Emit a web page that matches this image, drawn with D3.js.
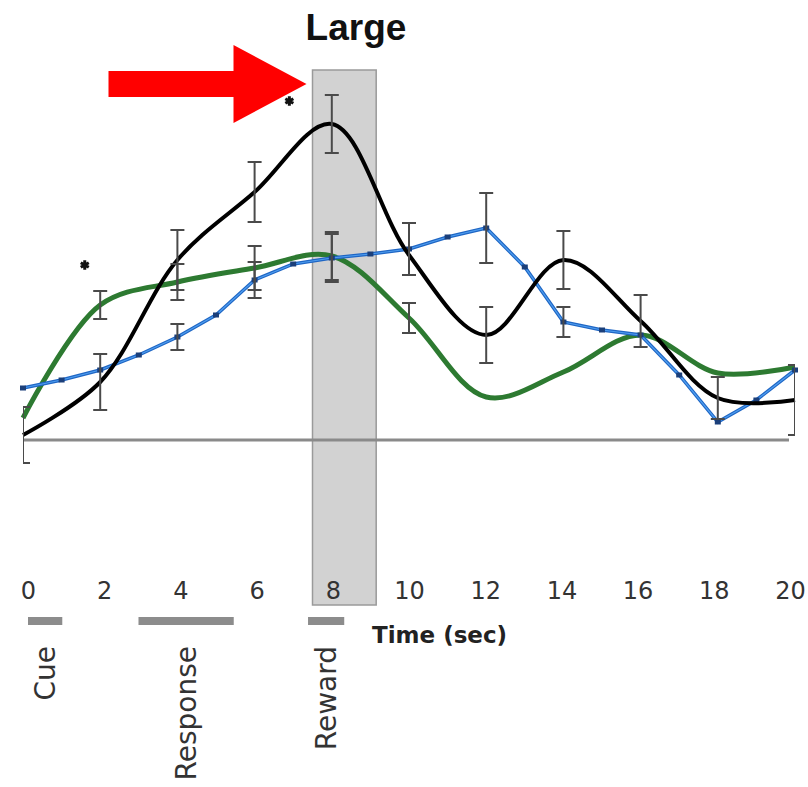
<!DOCTYPE html>
<meta charset="utf-8">
<style>
body { margin: 0; background: #fff; }
svg { display: block; }
.tick text { font-family: "DejaVu Sans", Verdana, sans-serif; font-size: 24px; fill: #333; }
</style>
<body>
<script src="https://d3js.org/d3.v7.min.js"></script>
<script>

// time points (sec)
var times = [0, 2, 4, 6, 8, 10, 12, 14, 16, 18, 20];
var blueTimes = [0, 1, 2, 3, 4, 5, 6, 7, 8, 9, 10, 11, 12, 13, 14, 15, 16, 17, 18, 19, 20];

// % signal change
var blackVals = [0.005, 0.058, 0.180, 0.248, 0.316, 0.185, 0.105, 0.180, 0.119, 0.042, 0.040];
var blackErr  = [0.028, 0.028, 0.030, 0.030, 0.029, null, 0.028, 0.029, 0.026, 0.021, 0.035];

var greenVals = [0.022, 0.135, 0.158, 0.172, 0.184, 0.122, 0.043, 0.068, 0.105, 0.067, 0.073];
var greenErr  = [null, 0.014, 0.018, 0.022, 0.024, 0.015, null, null, null, null, null];

var blueVals = [0.052, 0.060, 0.070, 0.085, 0.103, 0.125, 0.160, 0.176, 0.182, 0.186, 0.191,
                0.203, 0.212, 0.173, 0.118, 0.110, 0.105, 0.065, 0.018, 0.040, 0.070];
var blueErr  = [null, null, null, null, 0.013, null, 0.018, null, 0.024, null, 0.026,
                null, 0.035, null, 0.015, null, null, null, null, null, null];

// significance marks
var sigTimes = [1.6, 6.9];
var sigVals = [0.175, 0.339];

var tickLabels = [0, 2, 4, 6, 8, 10, 12, 14, 16, 18, 20];

// task events
var eventNames = ["Cue", "Response", "Reward"];
var eventStart = [0, 2.9, 7.35];
var eventEnd = [0.9, 5.4, 8.3];

// highlighted reward window
var windowStart = 7.5, windowEnd = 9.15;

var width = 808, height = 787;

var x = d3.scaleLinear().domain([0, 20]).range([23, 795]);
var xLab = d3.scaleLinear().domain([0, 20]).range([28, 790]);
var y = d3.scaleLinear().domain([0, 0.35]).range([440, 90]);

var svg = d3.select("body").append("svg")
    .attr("width", width)
    .attr("height", height);

svg.append("defs").append("clipPath")
    .attr("id", "plotclip")
  .append("rect")
    .attr("x", x(0)).attr("y", 0)
    .attr("width", x(20) - x(0)).attr("height", height);

// shaded window
svg.append("rect")
    .attr("x", x(windowStart))
    .attr("y", 70)
    .attr("width", x(windowEnd) - x(windowStart))
    .attr("height", 535)
    .style("fill", "#d2d2d2")
    .style("stroke", "#9a9a9a")
    .style("stroke-width", 1.5);

// zero line
svg.append("line")
    .attr("x1", x(0)).attr("x2", x(20) - 6)
    .attr("y1", y(0)).attr("y2", y(0))
    .style("stroke", "#8a8a8a")
    .style("stroke-width", 3);

var smooth = d3.line()
    .x(function(d) { return x(d.t); })
    .y(function(d) { return y(d.v); })
    .curve(d3.curveCatmullRom);

var straight = d3.line()
    .x(function(d) { return x(d.t); })
    .y(function(d) { return y(d.v); });

function zip(ts, vs, es) {
  return ts.map(function(t, i) { return {t: t, v: vs[i], e: es[i]}; });
}

var black = zip(times, blackVals, blackErr);
var green = zip(times, greenVals, greenErr);
var blue = zip(blueTimes, blueVals, blueErr);

svg.append("path")
    .datum(green)
    .attr("d", smooth)
    .style("fill", "none")
    .style("stroke", "#2d7a31")
    .style("stroke-width", 5);

svg.append("path")
    .datum(blue)
    .attr("d", straight)
    .style("fill", "none")
    .style("stroke", "#1f66c4")
    .style("stroke-width", 3.5);
svg.append("path")
    .datum(blue)
    .attr("d", straight)
    .style("fill", "none")
    .style("stroke", "#4f9ef0")
    .style("stroke-width", 1.2);

svg.selectAll(".bluept")
    .data(blue)
  .enter().append("rect")
    .attr("class", "bluept")
    .attr("x", function(d) { return x(d.t) - 3; })
    .attr("y", function(d) { return y(d.v) - 2.5; })
    .attr("width", 6).attr("height", 5)
    .style("fill", "#1b3f7a");

svg.append("path")
    .datum(black)
    .attr("d", smooth)
    .style("fill", "none")
    .style("stroke", "#000")
    .style("stroke-width", 4);

// error bars
var errs = black.concat(green, blue).filter(function(d) { return d.e != null; });
var eb = svg.append("g")
    .attr("clip-path", "url(#plotclip)")
    .style("stroke", "#4a4a4a")
    .style("stroke-width", 2);

eb.selectAll(".ev").data(errs).enter().append("line")
    .attr("x1", function(d) { return x(d.t); })
    .attr("x2", function(d) { return x(d.t); })
    .attr("y1", function(d) { return y(d.v + d.e); })
    .attr("y2", function(d) { return y(d.v - d.e); });
eb.selectAll(".et").data(errs).enter().append("line")
    .attr("x1", function(d) { return x(d.t) - 7; })
    .attr("x2", function(d) { return x(d.t) + 7; })
    .attr("y1", function(d) { return y(d.v + d.e); })
    .attr("y2", function(d) { return y(d.v + d.e); });
eb.selectAll(".eb").data(errs).enter().append("line")
    .attr("x1", function(d) { return x(d.t) - 7; })
    .attr("x2", function(d) { return x(d.t) + 7; })
    .attr("y1", function(d) { return y(d.v - d.e); })
    .attr("y2", function(d) { return y(d.v - d.e); });

// significance asterisks
svg.selectAll(".sig")
    .data(sigTimes)
  .enter().append("path")
    .attr("transform", function(d, i) { return "translate(" + x(d) + "," + y(sigVals[i]) + ")"; })
    .attr("d", d3.symbol().type(d3.symbolAsterisk).size(60))
    .style("stroke", "#111")
    .style("stroke-width", 3);

// x axis labels
var axis = svg.append("g")
    .attr("transform", "translate(0,582)")
    .call(d3.axisBottom(xLab).tickValues(tickLabels).tickSize(0).tickPadding(0));
axis.select(".domain").remove();

svg.append("text")
    .attr("x", 372)
    .attr("y", 643)
    .style("font-family", "DejaVu Sans, Verdana, sans-serif")
    .style("font-weight", "bold")
    .style("font-size", "23px")
    .style("fill", "#222")
    .text("Time (sec)");

// event bars and labels
svg.selectAll(".evbar")
    .data(eventNames)
  .enter().append("rect")
    .attr("x", function(d, i) { return xLab(eventStart[i]); })
    .attr("y", 617)
    .attr("width", function(d, i) { return xLab(eventEnd[i]) - xLab(eventStart[i]); })
    .attr("height", 8)
    .style("fill", "#8c8c8c");

svg.selectAll(".evlab")
    .data(eventNames)
  .enter().append("text")
    .attr("transform", function(d, i) {
      var cx = (xLab(eventStart[i]) + xLab(eventEnd[i])) / 2;
      return "translate(" + cx + ",646) rotate(-90)";
    })
    .attr("dy", "0.35em")
    .attr("text-anchor", "end")
    .style("font-family", "DejaVu Sans, Verdana, sans-serif")
    .style("font-size", "28px")
    .style("fill", "#333")
    .text(function(d) { return d; });

// title
svg.append("text")
    .attr("x", 356)
    .attr("y", 40)
    .attr("text-anchor", "middle")
    .style("font-family", "Liberation Sans, Arial, sans-serif")
    .style("font-weight", "bold")
    .style("font-size", "37px")
    .style("fill", "#111")
    .text("Large");

// red arrow pointing at the reward window
var tipX = x(windowStart) - 6, tipY = 84;
svg.append("path")
    .attr("d", "M" + (tipX - 198) + "," + (tipY - 13) +
               "H" + (tipX - 73) + "V" + (tipY - 39) +
               "L" + tipX + "," + tipY +
               "L" + (tipX - 73) + "," + (tipY + 39) +
               "V" + (tipY + 13) + "H" + (tipX - 198) + "Z")
    .style("fill", "#ff0000");

</script>
</body>
